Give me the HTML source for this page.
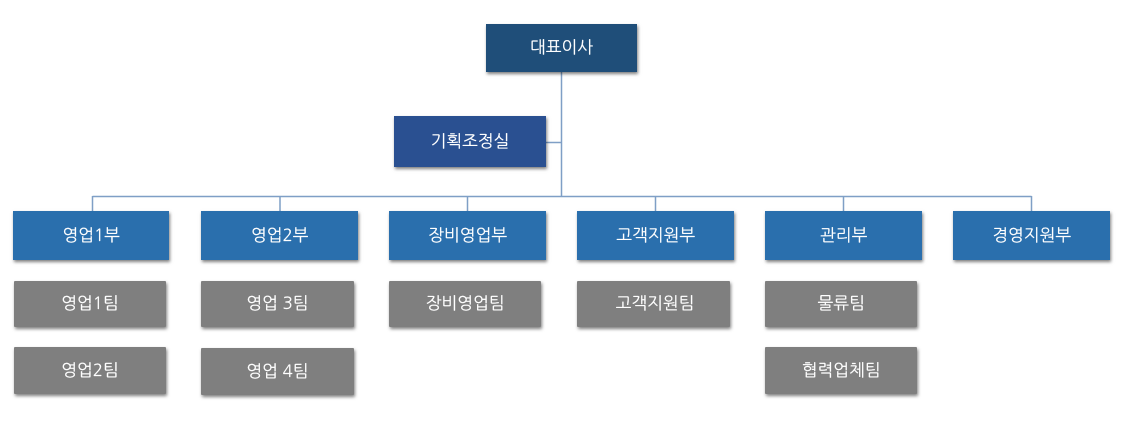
<!DOCTYPE html>
<html lang="ko">
<head>
<meta charset="utf-8">
<style>
html,body{margin:0;padding:0;background:#fff;width:1121px;height:425px;overflow:hidden}
#c{position:relative;width:1121px;height:425px}
.b{position:absolute;box-sizing:border-box;color:#fff;display:flex;align-items:center;justify-content:center;font:16.8px "NanumGothic","Liberation Sans","Noto Sans CJK KR",sans-serif;-webkit-text-stroke:.15px #fff;box-shadow:1px 2px 3px rgba(0,0,0,.5);white-space:pre}
.ceo{background:#1f4e79}
.pl{background:#2a5091}
.d{background:#2a6fad}
.t{background:#7f7f7f;border-radius:1px}
svg{position:absolute;left:0;top:0}
</style>
</head>
<body>
<div id="c">
<svg width="1121" height="425" fill="none" stroke="#7f9fc6" stroke-width="1.5">
<path d="M561.5 72V196M546 142.500H561.500M92.500 196.500H1031.500M92.500 196V211M280 196V211M467.500 196V211M655.500 196V211M843.500 196V211M1031.500 196V211"/>
</svg>
<div class="b ceo" style="left:486px;top:24px;width:151px;height:48px">대표이사</div>
<div class="b pl" style="left:394px;top:116px;width:152px;height:51px">기획조정실</div>

<div class="b d" style="left:13px;top:211px;width:156.400px;height:49px">영업1부</div>
<div class="b d" style="left:201px;top:211px;width:157.400px;height:49px">영업2부</div>
<div class="b d" style="left:389px;top:211px;width:157.400px;height:49px">장비영업부</div>
<div class="b d" style="left:577px;top:211px;width:157.400px;height:49px">고객지원부</div>
<div class="b d" style="left:765px;top:211px;width:157.400px;height:49px">관리부</div>
<div class="b d" style="left:953px;top:211px;width:157.400px;height:49px">경영지원부</div>

<div class="b t" style="left:14px;top:281px;width:152px;height:46px">영업1팀</div>
<div class="b t" style="left:14px;top:347px;width:152px;height:47px">영업2팀</div>
<div class="b t" style="left:201px;top:281px;width:153px;height:46px">영업 3팀</div>
<div class="b t" style="left:201px;top:348px;width:153px;height:47px">영업 4팀</div>
<div class="b t" style="left:389px;top:281px;width:152.400px;height:46px">장비영업팀</div>
<div class="b t" style="left:577px;top:281px;width:153px;height:46px;padding-left:3px">고객지원팀</div>
<div class="b t" style="left:765px;top:281px;width:152.400px;height:46px">물류팀</div>
<div class="b t" style="left:765px;top:347px;width:152.400px;height:47px">협력업체팀</div>
</div>
</body>
</html>
